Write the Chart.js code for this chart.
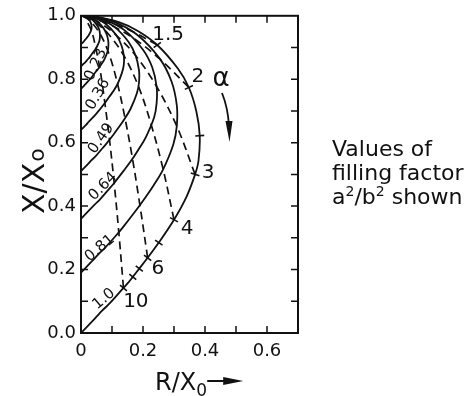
<!DOCTYPE html>
<html>
<head>
<meta charset="utf-8">
<title>Filling factor chart</title>
<script src="https://cdn.jsdelivr.net/npm/chart.js@4.4.1/dist/chart.umd.min.js"></script>
<style>
  html, body { margin: 0; padding: 0; background: #ffffff; }
  canvas { display: block; }
</style>
</head>
<body>
<canvas id="chart" width="469" height="396"></canvas>
<script>
// curves of constant filling factor a²/b², points are [R/X0, X/X0]
const fill100 = [[0,1],[0.045,0.997],[0.122,0.980],[0.182,0.953],[0.246,0.908],[0.313,0.833],[0.348,0.774],[0.372,0.699],[0.383,0.622],[0.379,0.543],[0.368,0.500],[0.341,0.431],[0.300,0.357],[0.251,0.285],[0.215,0.237],[0.188,0.203],[0.167,0.177],[0.151,0.157],[0.137,0.142],[0.093,0.094],[0.069,0.071],[0.046,0.047],[0,0]];
const fill081 = [[0,1],[0.036,0.998],[0.099,0.984],[0.179,0.942],[0.254,0.865],[0.292,0.793],[0.309,0.718],[0.309,0.652],[0.298,0.595],[0.265,0.516],[0.234,0.465],[0.203,0.421],[0.174,0.382],[0.135,0.333],[0.111,0.305],[0.075,0.266],[0.056,0.248],[0.037,0.228],[0,0.19]];
const fill064 = [[0,1],[0.029,0.998],[0.078,0.987],[0.141,0.954],[0.200,0.893],[0.230,0.837],[0.244,0.777],[0.244,0.725],[0.236,0.680],[0.209,0.617],[0.185,0.578],[0.161,0.542],[0.138,0.512],[0.107,0.473],[0.088,0.451],[0.060,0.420],[0.044,0.405],[0.029,0.390],[0,0.36]];
const fill049 = [[0,1],[0.022,0.999],[0.060,0.990],[0.108,0.965],[0.153,0.918],[0.176,0.875],[0.187,0.829],[0.187,0.789],[0.180,0.755],[0.160,0.707],[0.142,0.677],[0.123,0.650],[0.105,0.626],[0.082,0.597],[0.067,0.580],[0.046,0.556],[0.034,0.545],[0.023,0.533],[0,0.51]];
const fill036 = [[0,1],[0.016,0.999],[0.044,0.993],[0.080,0.974],[0.113,0.940],[0.130,0.908],[0.138,0.875],[0.138,0.845],[0.132,0.820],[0.118,0.785],[0.104,0.762],[0.090,0.743],[0.077,0.725],[0.060,0.704],[0.049,0.691],[0.033,0.674],[0.025,0.666],[0.017,0.657],[0,0.64]];
const fill023 = [[0,1],[0.010,0.999],[0.028,0.995],[0.051,0.983],[0.072,0.962],[0.083,0.941],[0.088,0.920],[0.088,0.901],[0.085,0.885],[0.075,0.862],[0.066,0.848],[0.058,0.836],[0.049,0.825],[0.038,0.811],[0.032,0.803],[0.021,0.792],[0.016,0.786],[0.011,0.781],[0,0.77]];
const fill016 = [[0,1],[0.007,1.0],[0.020,0.997],[0.035,0.989],[0.050,0.973],[0.058,0.959],[0.061,0.944],[0.061,0.931],[0.059,0.920],[0.052,0.904],[0.046,0.894],[0.040,0.886],[0.034,0.878],[0.027,0.868],[0.022,0.863],[0.015,0.855],[0.011,0.851],[0.007,0.848],[0,0.84]];
const fill009 = [[0,1],[0.011,0.998],[0.020,0.994],[0.028,0.985],[0.032,0.977],[0.034,0.969],[0.034,0.961],[0.033,0.955],[0.029,0.946],[0.026,0.941],[0.023,0.936],[0.019,0.931],[0.015,0.926],[0.012,0.923],[0.008,0.918],[0,0.91]];

// curves of constant alpha (dashed), from the a²/b² = 1 curve inwards
const alpha10 = [[0.137,0.142],[0.122,0.317],[0.107,0.473],[0.092,0.609],[0.077,0.725],[0.063,0.821],[0.048,0.897],[0.033,0.955],[0.014,0.991]];
const alpha6 = [[0.215,0.237],[0.190,0.403],[0.166,0.550],[0.142,0.677],[0.118,0.785],[0.092,0.875],[0.061,0.944],[0.028,0.985],[0.007,0.998]];
const alpha4 = [[0.300,0.357],[0.265,0.516],[0.227,0.655],[0.186,0.776],[0.138,0.875],[0.087,0.944],[0.043,0.982],[0.015,0.996]];
const alpha3 = [[0.368,0.500],[0.309,0.652],[0.244,0.777],[0.176,0.875],[0.112,0.940],[0.062,0.977],[0.027,0.994],[0.009,0.999]];
const alpha2 = [[0.348,0.774],[0.253,0.865],[0.173,0.927],[0.108,0.965],[0.061,0.985],[0.030,0.995],[0.013,0.999]];
const alpha15 = [[0.246,0.908],[0.169,0.949],[0.109,0.974],[0.065,0.988],[0.036,0.995],[0.017,0.998]];

// alpha marks on the a²/b² = 1 curve
const alphaTickVals = [10, 8, 7, 6, 5, 4, 3, 2.5, 2, 1.5];
const alphaTickPts = [[0.137,0.142],[0.167,0.177],[0.188,0.203],[0.215,0.237],[0.251,0.285],[0.300,0.357],[0.368,0.500],[0.383,0.622],[0.348,0.774],[0.246,0.908]];

// texts
const fillLabels = ['1.0', '0.81', '0.64', '0.49', '0.36', '0.23'];
const alphaLabels = ['10', '6', '4', '3', '2', '1.5'];
const xTickLabels = ['0', '0.2', '0.4', '0.6'];
const yTickLabels = ['0.0', '0.2', '0.4', '0.6', '0.8', '1.0'];
const sideNote = ['Values of', 'filling factor'];

// where the texts sit, in axis units (and text angle in degrees)
const fillLabelSpots = [[0.074,0.107,-40],[0.061,0.267,-40],[0.071,0.462,-45],[0.065,0.613,-55],[0.055,0.752,-60],[0.048,0.846,-65]];
const alphaLabelSpots = [[0.177,0.097],[0.248,0.201],[0.342,0.330],[0.410,0.506],[0.377,0.808],[0.281,0.940]];

const INK = '#111111';
const FONT = '"DejaVu Sans", "Liberation Sans", sans-serif';
Chart.defaults.font.family = FONT;
Chart.defaults.color = INK;

const toPts = arr => arr.map(p => ({ x: p[0], y: p[1] }));

const solidCurves = [fill100, fill081, fill064, fill049, fill036, fill023, fill016, fill009];
const dashedCurves = [alpha10, alpha6, alpha4, alpha3, alpha2, alpha15];

const datasets = [];
solidCurves.forEach(c => datasets.push({
  data: toPts(c), showLine: true, borderColor: INK, borderWidth: 1.8,
  pointRadius: 0, tension: 0.35, fill: false
}));
dashedCurves.forEach(c => datasets.push({
  data: toPts(c), showLine: true, borderColor: INK, borderWidth: 1.7,
  borderDash: [8, 5], pointRadius: 0, tension: 0.35, fill: false
}));

// little cross marks, turned across the curve
function tickRotation(ctx) {
  const ch = ctx.chart;
  const i = ctx.dataIndex;
  const sx = ch.scales.x, sy = ch.scales.y;
  if (i === undefined || !sx || !sy) return 0;
  const a = alphaTickPts[Math.max(i - 1, 0)];
  const b = alphaTickPts[Math.min(i + 1, alphaTickPts.length - 1)];
  const dx = sx.getPixelForValue(b[0]) - sx.getPixelForValue(a[0]);
  const dy = sy.getPixelForValue(b[1]) - sy.getPixelForValue(a[1]);
  return Math.atan2(dy, dx) * 180 / Math.PI + 90;
}
datasets.push({
  data: toPts(alphaTickPts), showLine: false, pointStyle: 'line',
  pointRadius: 4.5, pointBorderWidth: 1.6, pointBorderColor: INK,
  borderColor: INK, pointRotation: tickRotation
});

const decor = {
  id: 'decor',
  afterDraw(chart) {
    const { ctx, chartArea: a, scales: { x, y } } = chart;
    const px = v => x.getPixelForValue(v);
    const py = v => y.getPixelForValue(v);
    ctx.save();
    ctx.strokeStyle = INK;
    ctx.fillStyle = INK;

    // frame + inward ticks
    ctx.lineWidth = 2;
    ctx.strokeRect(a.left, a.top, a.right - a.left, a.bottom - a.top);
    ctx.lineWidth = 1.5;
    ctx.beginPath();
    for (let k = 1; k <= 6; k++) {
      const xx = px(k / 10);
      ctx.moveTo(xx, a.bottom); ctx.lineTo(xx, a.bottom - 7);
      ctx.moveTo(xx, a.top); ctx.lineTo(xx, a.top + 7);
    }
    for (let k = 1; k <= 9; k++) {
      const yy = py(k / 10);
      ctx.moveTo(a.left, yy); ctx.lineTo(a.left + 7, yy);
      ctx.moveTo(a.right, yy); ctx.lineTo(a.right - 7, yy);
    }
    ctx.stroke();

    // filling factor labels along the curves
    ctx.font = '15px ' + FONT;
    ctx.textAlign = 'center';
    ctx.textBaseline = 'middle';
    fillLabels.forEach((t, i) => {
      const s = fillLabelSpots[i];
      ctx.save();
      ctx.translate(px(s[0]), py(s[1]));
      ctx.rotate(s[2] * Math.PI / 180);
      ctx.fillText(t, 0, 0);
      ctx.restore();
    });

    // alpha values
    ctx.font = '20px ' + FONT;
    alphaLabels.forEach((t, i) => {
      const s = alphaLabelSpots[i];
      ctx.fillText(t, px(s[0]), py(s[1]));
    });

    // alpha with its arrow
    ctx.font = '26px ' + FONT;
    ctx.fillText('\u03b1', 221, 79);
    ctx.lineWidth = 1.8;
    ctx.beginPath();
    ctx.moveTo(222, 93);
    ctx.quadraticCurveTo(228, 108, 229, 126);
    ctx.stroke();
    ctx.beginPath();
    ctx.moveTo(225.5, 121);
    ctx.lineTo(232.5, 121);
    ctx.lineTo(229.5, 142);
    ctx.closePath();
    ctx.fill();

    // axis titles
    ctx.textAlign = 'left';
    ctx.textBaseline = 'alphabetic';
    ctx.font = '24px ' + FONT;
    ctx.fillText('R/X', 155, 390);
    const rw = ctx.measureText('R/X').width;
    ctx.font = '17px ' + FONT;
    ctx.fillText('0', 155 + rw, 396);
    const ax = 155 + rw + 11;
    ctx.lineWidth = 2;
    ctx.beginPath();
    ctx.moveTo(ax, 381); ctx.lineTo(ax + 20, 381);
    ctx.stroke();
    ctx.beginPath();
    ctx.moveTo(ax + 16, 377); ctx.lineTo(ax + 36, 381); ctx.lineTo(ax + 16, 385);
    ctx.closePath();
    ctx.fill();

    ctx.save();
    ctx.translate(44, 214);
    ctx.rotate(-Math.PI / 2);
    ctx.font = '30px ' + FONT;
    ctx.fillText('X/X', 0, 0);
    const yw = ctx.measureText('X/X').width;
    ctx.font = '22px ' + FONT;
    ctx.fillText('o', yw + 1, 0);
    ctx.restore();

    // note on the right
    ctx.font = '22px ' + FONT;
    ctx.fillText(sideNote[0], 332, 156);
    ctx.fillText(sideNote[1], 332, 180);
    let cx = 332;
    const parts = [['a', 0], ['2', 1], ['/b', 0], ['2', 1], [' shown', 0]];
    parts.forEach(p => {
      ctx.font = (p[1] ? '14px ' : '22px ') + FONT;
      ctx.fillText(p[0], cx, p[1] ? 196 : 204);
      cx += ctx.measureText(p[0]).width;
    });
    ctx.restore();
  }
};

new Chart(document.getElementById('chart'), {
  type: 'scatter',
  data: { datasets },
  options: {
    responsive: false,
    animation: false,
    devicePixelRatio: 1,
    events: [],
    layout: { padding: { top: 15, right: 171, left: 0, bottom: 0 } },
    plugins: { legend: { display: false }, tooltip: { enabled: false } },
    scales: {
      x: {
        type: 'linear', min: 0, max: 0.7,
        grid: { display: false, drawTicks: false },
        border: { display: false },
        afterFit: s => { s.height = 63; },
        ticks: {
          stepSize: 0.1, autoSkip: false, padding: 8, color: INK,
          font: { size: 18 }, maxRotation: 0,
          callback: v => {
            const k = Math.round(v * 10);
            return k % 2 === 0 && k / 2 < xTickLabels.length ? xTickLabels[k / 2] : '';
          }
        }
      },
      y: {
        type: 'linear', min: 0, max: 1,
        grid: { display: false, drawTicks: false },
        border: { display: false },
        afterFit: s => { s.width = 81; },
        ticks: {
          stepSize: 0.1, autoSkip: false, padding: 5, color: INK,
          font: { size: 18 },
          callback: v => {
            const k = Math.round(v * 10);
            return k % 2 === 0 ? yTickLabels[k / 2] : '';
          }
        }
      }
    }
  },
  plugins: [decor]
});
</script>
</body>
</html>
